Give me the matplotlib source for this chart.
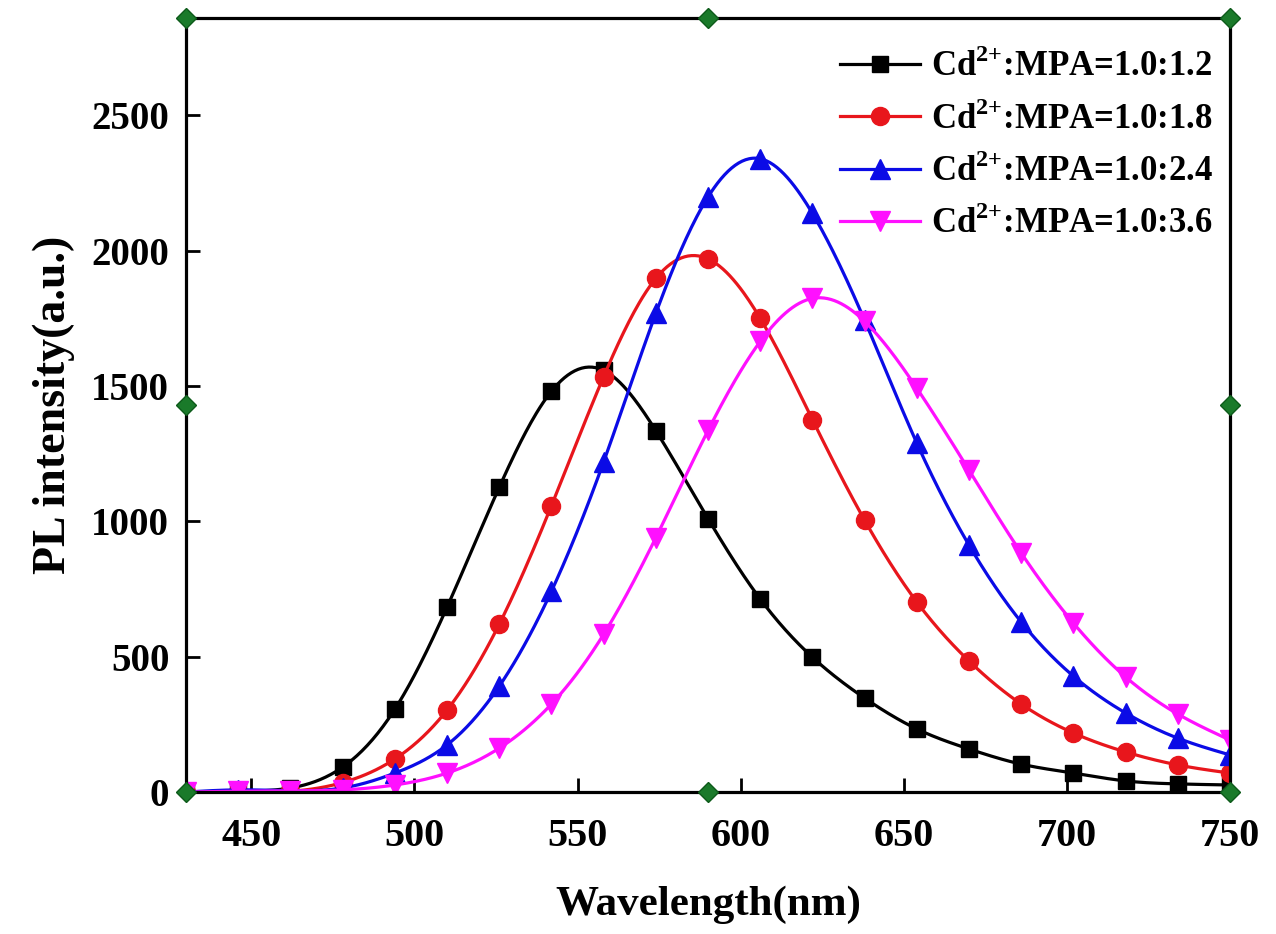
import numpy as np
import matplotlib
matplotlib.use("Agg")
import matplotlib.pyplot as plt

plt.rcParams['font.family'] = ['Liberation Serif', 'DejaVu Serif']
plt.rcParams['font.weight'] = 'bold'
plt.rcParams['mathtext.fontset'] = 'custom'
plt.rcParams['mathtext.rm'] = 'Liberation Serif:bold'
plt.rcParams['mathtext.bf'] = 'Liberation Serif:bold'

# data (one point every 16 nm)
wavelength = [430, 446, 462, 478, 494, 510, 526, 542, 558, 574, 590,
              606, 622, 638, 654, 670, 686, 702, 718, 734, 750]
pl_12 = [0, 3, 15, 92, 306, 683, 1126, 1481, 1558, 1335, 1010,
         713, 498, 347, 233, 159, 103, 70, 41, 30, 26]
pl_18 = [0, 1, 3, 35, 122, 303, 620, 1058, 1535, 1898, 1970,
         1750, 1376, 1004, 702, 484, 325, 218, 148, 100, 70]
pl_24 = [0, 8, 5, 15, 70, 174, 391, 742, 1220, 1769, 2199,
         2340, 2138, 1743, 1289, 912, 628, 428, 292, 199, 137]
pl_36 = [0, 3, 4, 8, 26, 70, 162, 325, 583, 940, 1336,
         1665, 1824, 1739, 1492, 1189, 883, 624, 425, 288, 192]
ratios = ['1.0:1.2', '1.0:1.8', '1.0:2.4', '1.0:3.6']
labels = [r'Cd$^{\mathregular{2{+}}}$:MPA=' + r for r in ratios]


def spline_line(x, y, n=600):
    # natural cubic spline, only used to draw the smooth connecting line
    x = np.asarray(x, float)
    y = np.asarray(y, float)
    h = np.diff(x)
    m = len(x)
    A = np.zeros((m, m))
    b = np.zeros(m)
    A[0, 0] = A[-1, -1] = 1
    for i in range(1, m - 1):
        A[i, i - 1] = h[i - 1]
        A[i, i] = 2 * (h[i - 1] + h[i])
        A[i, i + 1] = h[i]
        b[i] = 6 * ((y[i + 1] - y[i]) / h[i] - (y[i] - y[i - 1]) / h[i - 1])
    M = np.linalg.solve(A, b)
    xs = np.linspace(x[0], x[-1], n)
    idx = np.clip(np.searchsorted(x, xs) - 1, 0, m - 2)
    x0, x1 = x[idx], x[idx + 1]
    hh = x1 - x0
    t0, t1 = x1 - xs, xs - x0
    ys = (M[idx] * t0 ** 3 + M[idx + 1] * t1 ** 3) / (6 * hh) \
        + (y[idx] / hh - M[idx] * hh / 6) * t0 \
        + (y[idx + 1] / hh - M[idx + 1] * hh / 6) * t1
    return xs, np.maximum(ys, 0)


fig = plt.figure(figsize=(12.76, 9.34), dpi=100)
ax = fig.add_axes([0.1458, 0.152, 0.8182, 0.8287])

styles = [('black', 's', 12), ('#e8161c', 'o', 13),
          ('#0b0be6', '^', 14), ('#ff10ff', 'v', 14)]
for yv, lab, (col, mk, ms) in zip([pl_12, pl_18, pl_24, pl_36], labels, styles):
    xs, ys = spline_line(wavelength, yv)
    ax.plot(xs, ys, color=col, lw=2.3, solid_capstyle='round')
    ax.plot(wavelength, yv, ls='none', marker=mk, ms=ms, color=col)
    ax.plot([], [], color=col, lw=2.3, marker=mk, ms=ms, label=lab)

ax.set_xlim(430, 750)
ax.set_ylim(0, 2860)
ax.set_xticks([450, 500, 550, 600, 650, 700, 750])
ax.set_yticks([0, 500, 1000, 1500, 2000, 2500])
ax.tick_params(direction='in', length=10, width=2, labelsize=28, pad=12,
               top=False, right=False)
ax.tick_params(axis='x', labelsize=29, pad=19)
for lbl in ax.get_xticklabels() + ax.get_yticklabels():
    lbl.set_fontweight('bold')
for sp in ax.spines.values():
    sp.set_linewidth(2.3)

ax.set_xlabel('Wavelength(nm)', fontsize=31, fontweight='bold', labelpad=22)
ax.set_ylabel('PL intensity(a.u.)', fontsize=33, fontweight='bold', labelpad=12)

ax.legend(loc='upper right', bbox_to_anchor=(1.01, 0.995), frameon=False,
          fontsize=25, handlelength=2.3, handletextpad=0.3, labelspacing=0.5,
          borderaxespad=0.4)

# selection handles shown around the frame in the original screenshot
hx = [0, 0.5, 1, 0, 1, 0, 0.5, 1]
hy = [0, 0, 0, 0.5, 0.5, 1, 1, 1]
ax.plot(hx, hy, ls='none', marker='D', ms=10, color='#1a7a2a',
        mec='#0d5a1a', transform=ax.transAxes, clip_on=False, zorder=10)

fig.savefig('out.png', dpi=100)
